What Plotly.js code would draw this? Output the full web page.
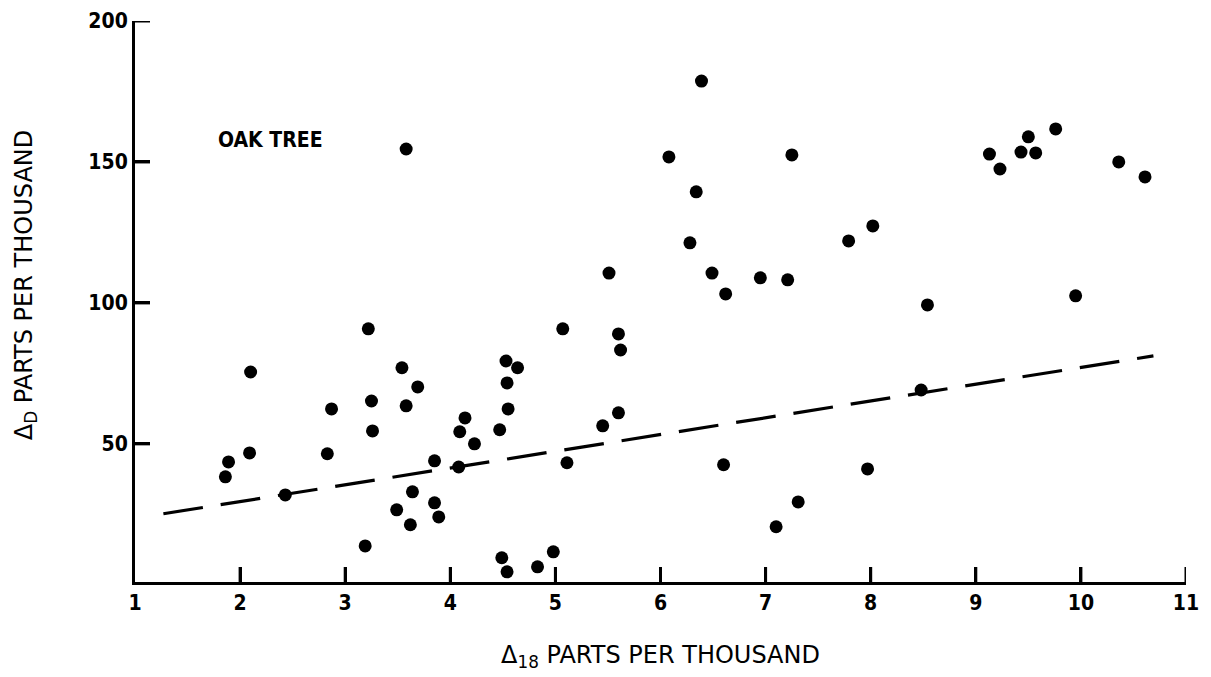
<!DOCTYPE html>
<html>
<head>
<meta charset="utf-8">
<script src="https://cdn.plot.ly/plotly-3.0.1.min.js"></script>
<style>html,body{margin:0;padding:0;background:#fff;}#chart{width:1211px;height:677px;}</style>
</head>
<body>
<div id="chart"></div>
<script>
// Oak tree: Δ18 vs ΔD, parts per thousand
const delta18 = [2.09, 1.89, 1.86, 2.43, 2.87, 2.83, 3.25, 3.26, 3.58, 3.69,
  3.19, 3.64, 3.49, 3.62, 3.85, 3.85, 3.89, 4.09, 4.14, 4.23,
  4.08, 4.47, 4.55, 4.54, 5.11, 5.45, 4.49, 4.54, 4.83, 4.98,
  3.58, 3.22, 2.10, 3.54, 4.53, 4.64, 5.07, 6.39, 6.08, 7.25,
  6.34, 6.28, 5.51, 6.49, 6.62, 6.95, 7.21, 7.79, 8.02, 5.60,
  5.62, 5.60, 6.60, 7.31, 7.10, 7.97, 8.54, 9.13, 9.23, 9.43,
  9.50, 9.57, 9.76, 10.36, 10.61, 9.95, 8.48];
const deltaD = [46.8, 43.6, 38.3, 31.9, 62.4, 46.5, 65.2, 54.6, 63.5, 70.2,
  13.8, 33.0, 26.6, 21.3, 44.0, 29.1, 24.1, 54.3, 59.2, 50.0,
  41.8, 55.0, 62.4, 71.6, 43.3, 56.4, 9.6, 4.6, 6.4, 11.7,
  154.6, 90.8, 75.5, 77.0, 79.4, 77.0, 90.8, 178.7, 151.8, 152.5,
  139.4, 121.3, 110.6, 110.6, 103.2, 108.9, 108.2, 122.0, 127.3, 89.0,
  83.3, 61.0, 42.6, 29.4, 20.6, 41.1, 99.3, 152.8, 147.5, 153.5,
  158.9, 153.2, 161.7, 150.0, 144.7, 102.5, 69.1];
// dashed trend line end points
const trendX = [1.27, 10.69];
const trendY = [25.2, 81.2];
const xTicks = [1, 2, 3, 4, 5, 6, 7, 8, 9, 10, 11];
const yTicks = [50, 100, 150, 200];
const xMin = 1, xMax = 11, yMin = 1, yMax = 200;

const FONT = '"DejaVu Sans Condensed", "DejaVu Sans", sans-serif';
const TFONT = '"DejaVu Sans", sans-serif';

const traces = [
  {x: trendX, y: trendY, type: 'scatter', mode: 'lines',
   line: {color: '#000', width: 3.2, dash: '40px,18px'}, hoverinfo: 'skip'},
  {x: delta18, y: deltaD, type: 'scatter', mode: 'markers',
   marker: {color: '#000', size: 13, symbol: 'circle'}}
];

// inward tick marks, placed through the axes' own scales
const TL = 15;
const tickShapes = [];
xTicks.filter(v => v > xMin).forEach(v => tickShapes.push({
  type: 'line', xref: 'x', yref: 'y', ysizemode: 'pixel', yanchor: yMin,
  x0: v, x1: v, y0: 0, y1: TL, line: {color: '#000', width: 3}
}));
yTicks.forEach(v => tickShapes.push({
  type: 'line', xref: 'x', yref: 'y', xsizemode: 'pixel', xanchor: xMin,
  x0: 0, x1: TL, y0: v, y1: v, line: {color: '#000', width: 3}
}));

const axisCommon = {
  showline: true, linecolor: '#000', linewidth: 3,
  ticks: 'inside', ticklen: TL, tickwidth: 3, tickcolor: '#000',
  showgrid: false, zeroline: false, mirror: false,
  tickfont: {family: FONT, size: 21, color: '#000', weight: 'bold'}
};

const layout = {
  width: 1211, height: 677,
  margin: {l: 135, r: 25, t: 21, b: 95},
  paper_bgcolor: '#fff', plot_bgcolor: '#fff',
  showlegend: false,
  xaxis: Object.assign({}, axisCommon, {
    range: [xMin, xMax], tickmode: 'array', tickvals: xTicks,
    ticktext: xTicks.map(String),
    title: {text: 'Δ<sub>18</sub> PARTS PER THOUSAND', standoff: 32,
      font: {family: TFONT, size: 24, color: '#000'}}
  }),
  yaxis: Object.assign({}, axisCommon, {
    range: [yMin, yMax], tickmode: 'array', tickvals: yTicks,
    ticktext: yTicks.map(String),
    title: {text: ''}
  }),
  shapes: tickShapes,
  annotations: [{
    text: 'OAK TREE', xref: 'x', yref: 'y', x: 2.29, y: 157.8,
    showarrow: false, font: {family: FONT, size: 21, color: '#000', weight: 'bold'}
  }, {
    text: 'Δ<sub>D</sub> PARTS PER THOUSAND', xref: 'paper', yref: 'paper',
    x: -0.1047, y: 0.529, xanchor: 'center', yanchor: 'middle', textangle: -90,
    showarrow: false, font: {family: TFONT, size: 24, color: '#000'}
  }]
};

Plotly.newPlot('chart', traces, layout, {displayModeBar: false, staticPlot: true});
</script>
</body>
</html>
